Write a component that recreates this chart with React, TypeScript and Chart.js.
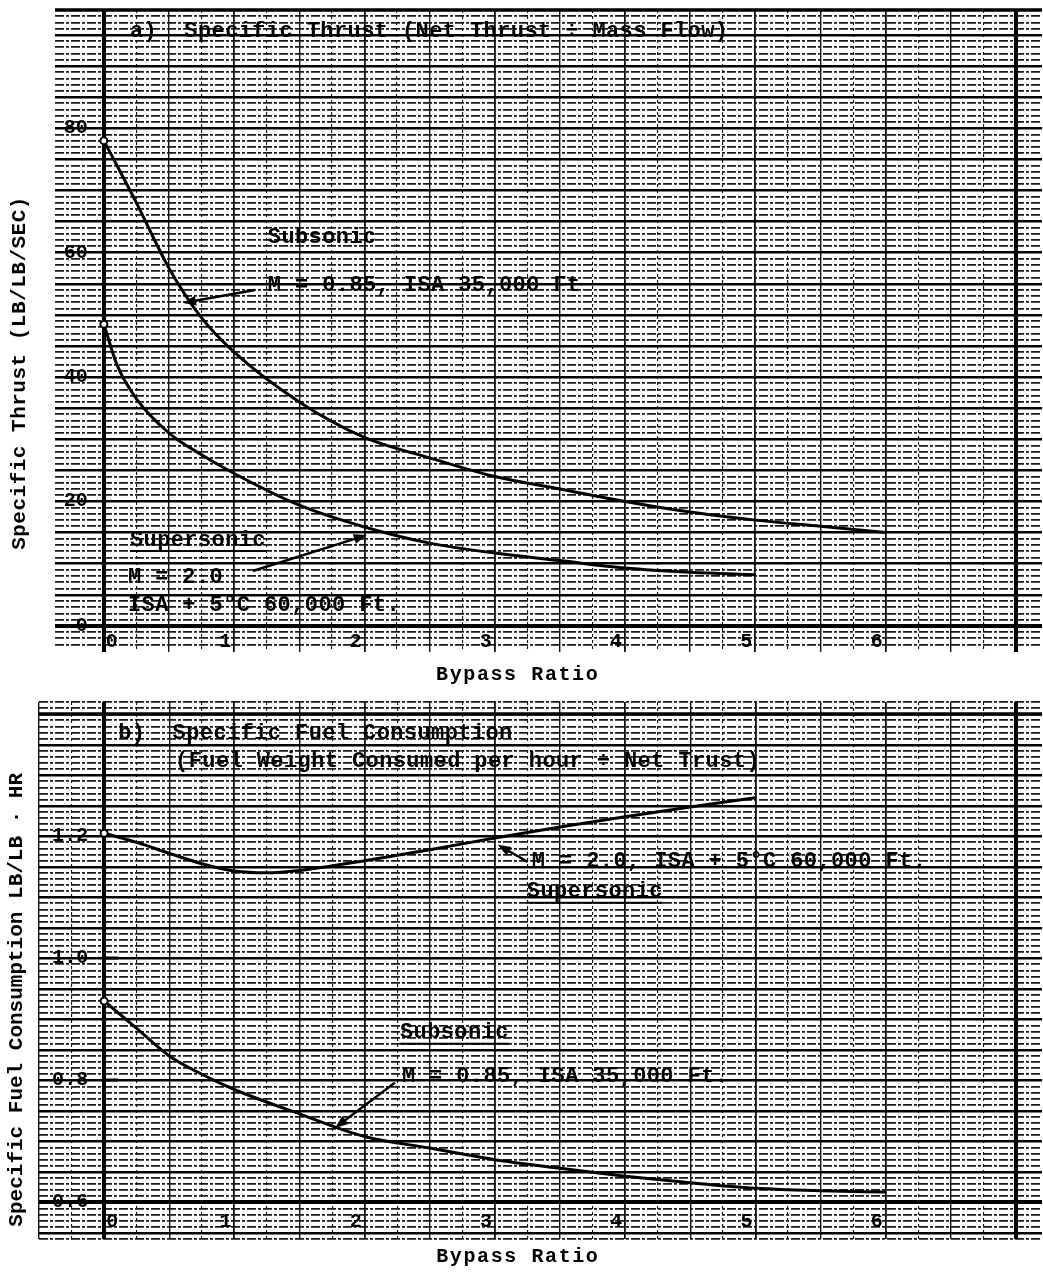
import { useEffect, useRef } from 'react';
import { Chart, registerables } from 'chart.js';

Chart.register(...registerables);

// ---------- data ----------
// a) Specific thrust (LB/LB/SEC) vs bypass ratio
const thrustSubsonicBPR = [0, 0.25, 0.5, 0.75, 1, 1.5, 2, 2.5, 3, 3.5, 4, 4.5, 5, 5.5, 6];
const thrustSubsonic = [78, 68, 57.5, 49.5, 44, 36, 30.3, 27, 24, 22, 20, 18.3, 17, 16, 15];
const thrustSupersonicBPR = [0, 0.1, 0.25, 0.5, 0.75, 1, 1.5, 2, 2.5, 3, 3.5, 4, 4.5, 5];
const thrustSupersonic = [48.5, 42, 36.5, 31, 27.5, 24.5, 19.4, 15.9, 13.3, 11.7, 10.5, 9.3, 8.6, 8.2];

// b) Specific fuel consumption (LB/LB·HR) vs bypass ratio
const sfcSupersonicBPR = [0, 0.25, 0.5, 0.75, 1, 1.25, 1.5, 2, 2.5, 3, 3.5, 4, 4.5, 5];
const sfcSupersonic = [1.205, 1.19, 1.172, 1.155, 1.143, 1.14, 1.144, 1.16, 1.178, 1.197, 1.215, 1.232, 1.248, 1.263];
const sfcSubsonicBPR = [0, 0.25, 0.5, 0.75, 1, 1.5, 2, 2.5, 3, 3.5, 4, 4.5, 5, 5.5, 6];
const sfcSubsonic = [0.93, 0.885, 0.84, 0.81, 0.785, 0.745, 0.708, 0.689, 0.67, 0.656, 0.643, 0.632, 0.623, 0.619, 0.617];

// tick labels
const bypassTicks = [0, 1, 2, 3, 4, 5, 6];
const thrustTicks = [0, 20, 40, 60, 80];
const thrustTickLabels = ['0', '20', '40', '60', '80'];
const sfcTicks = [0.6, 0.8, 1.0, 1.2];
const sfcTickLabels = ['0.6', '0.8', '1.0', '1.2'];

// ---------- helpers ----------
type Note = { text: string; x: number; y: number; underline?: boolean };
type Arrow = { fromX: number; fromY: number; toX: number; toY: number };
interface Deco {
  notes: Note[];
  arrows: Arrow[];
  yTickValues: number[];
  yTickLabels: string[];
  yTickMarks: number[];
  xTickLabelY: number;
  yTitle: string;
  yTitleY: number;
  yTitleGap: number;
  yTitleSpacing: string;
  xTitle: string;
  xTitleX: number;
  frameTop: number;
  frameRight: number;
  axisY: number;
}

const near = (a: number, b: number) => Math.abs(a - b) < 1e-6;
const isMult = (v: number, s: number) => near(v / s, Math.round(v / s));

const MONO = '"Liberation Mono", "DejaVu Sans Mono", monospace';

function decoPlugin(d: Deco) {
  return {
    id: 'paperDeco',
    beforeDatasetsDraw(chart: any) {
      const { ctx, chartArea: a, scales } = chart;
      const xs = scales.x;
      const ys = scales.y;
      ctx.save();
      ctx.strokeStyle = '#000';
      ctx.setLineDash([]);
      const vline = (v: number, w: number) => {
        const p = Math.round(xs.getPixelForValue(v));
        ctx.lineWidth = w;
        ctx.beginPath();
        ctx.moveTo(p, a.top);
        ctx.lineTo(p, a.bottom);
        ctx.stroke();
      };
      const hline = (v: number, w: number) => {
        const p = Math.round(ys.getPixelForValue(v));
        ctx.lineWidth = w;
        ctx.beginPath();
        ctx.moveTo(a.left, p);
        ctx.lineTo(a.right, p);
        ctx.stroke();
      };
      vline(0, 4);
      vline(d.frameRight, 4);
      hline(d.axisY, 4);
      hline(d.frameTop, 3.5);
      // short tick marks on the y axis
      ctx.lineWidth = 3;
      for (const m of d.yTickMarks) {
        const p = Math.round(ys.getPixelForValue(m));
        const x0 = xs.getPixelForValue(0);
        ctx.beginPath();
        ctx.moveTo(x0, p);
        ctx.lineTo(x0 + 14, p);
        ctx.stroke();
      }
      ctx.restore();
    },
    afterDraw(chart: any) {
      const { ctx, scales, height } = chart;
      const xs = scales.x;
      const ys = scales.y;
      ctx.save();
      ctx.fillStyle = '#000';
      ctx.strokeStyle = '#000';
      ctx.setLineDash([]);

      // annotations
      ctx.font = `bold 22px ${MONO}`;
      (ctx as any).letterSpacing = '0.4px';
      ctx.textAlign = 'left';
      ctx.textBaseline = 'middle';
      for (const n of d.notes) {
        const px = xs.getPixelForValue(n.x);
        const py = ys.getPixelForValue(n.y);
        ctx.fillText(n.text, px, py);
        if (n.underline) {
          const w = ctx.measureText(n.text).width;
          ctx.fillRect(px, py + 10, w, 2);
        }
      }

      // arrows
      ctx.lineWidth = 2.5;
      for (const ar of d.arrows) {
        const x1 = xs.getPixelForValue(ar.fromX);
        const y1 = ys.getPixelForValue(ar.fromY);
        const x2 = xs.getPixelForValue(ar.toX);
        const y2 = ys.getPixelForValue(ar.toY);
        const ang = Math.atan2(y2 - y1, x2 - x1);
        const L = 13;
        const W = 5;
        ctx.beginPath();
        ctx.moveTo(x1, y1);
        ctx.lineTo(x2 - Math.cos(ang) * (L - 2), y2 - Math.sin(ang) * (L - 2));
        ctx.stroke();
        ctx.beginPath();
        ctx.moveTo(x2, y2);
        ctx.lineTo(x2 - Math.cos(ang) * L - Math.sin(ang) * W, y2 - Math.sin(ang) * L + Math.cos(ang) * W);
        ctx.lineTo(x2 - Math.cos(ang) * L + Math.sin(ang) * W, y2 - Math.sin(ang) * L - Math.cos(ang) * W);
        ctx.closePath();
        ctx.fill();
      }

      // y tick labels
      ctx.font = `bold 20px ${MONO}`;
      (ctx as any).letterSpacing = '0px';
      ctx.textAlign = 'right';
      const x0 = xs.getPixelForValue(0);
      d.yTickValues.forEach((v, i) => {
        ctx.fillText(d.yTickLabels[i], x0 - 16, ys.getPixelForValue(v));
      });

      // x tick labels
      const ly = ys.getPixelForValue(d.xTickLabelY);
      for (const v of bypassTicks) {
        const px = xs.getPixelForValue(v);
        if (v === 0) {
          ctx.textAlign = 'left';
          ctx.fillText(String(v), px + 2, ly);
        } else {
          ctx.textAlign = 'right';
          ctx.fillText(String(v), px - 3, ly);
        }
      }

      // x title
      ctx.font = `bold 20px ${MONO}`;
      (ctx as any).letterSpacing = '1.6px';
      ctx.textAlign = 'center';
      ctx.fillText(d.xTitle, xs.getPixelForValue(d.xTitleX), height - 15);

      // y title
      ctx.font = `bold 21px ${MONO}`;
      (ctx as any).letterSpacing = d.yTitleSpacing;
      ctx.save();
      ctx.translate(chart.chartArea.left - d.yTitleGap, ys.getPixelForValue(d.yTitleY));
      ctx.rotate(-Math.PI / 2);
      ctx.textAlign = 'center';
      ctx.fillText(d.yTitle, 0, 0);
      ctx.restore();

      ctx.restore();
    },
  };
}

function series(xs: number[], ys: number[]) {
  return {
    data: xs.map((x, i) => ({ x, y: ys[i] })),
    borderColor: '#000',
    borderWidth: 3,
    pointRadius: (c: any) => (c.dataIndex === 0 ? 3.5 : 0),
    pointBackgroundColor: '#fff',
    pointBorderColor: '#000',
    pointBorderWidth: 2,
    cubicInterpolationMode: 'monotone' as const,
    fill: false,
  };
}

function makeConfig(opts: {
  datasets: any[];
  xMin: number;
  xMax: number;
  yMin: number;
  yMax: number;
  yMinor: number;
  yMajor: number;
  padding: { left: number; right: number; top: number; bottom: number };
  deco: Deco;
}): any {
  const xWidth = (v: number) => {
    if (!isMult(v, 0.25)) return 0;
    if (isMult(v, 1)) return 1.8;
    if (isMult(v, 0.5)) return 1.4;
    return 1.1;
  };
  const yWidth = (v: number) => {
    if (!isMult(v, opts.yMinor)) return 0;
    if (isMult(v, opts.yMajor)) return 2.4;
    return 1.8;
  };
  return {
    type: 'line',
    data: { datasets: opts.datasets },
    options: {
      responsive: false,
      animation: false,
      devicePixelRatio: 1,
      events: [],
      layout: { padding: opts.padding },
      plugins: { legend: { display: false }, tooltip: { enabled: false } },
      scales: {
        x: {
          type: 'linear',
          min: opts.xMin,
          max: opts.xMax,
          ticks: { display: false, stepSize: 0.25, maxTicksLimit: 1000 },
          grid: {
            drawTicks: false,
            color: '#111',
            lineWidth: (c: any) => (c.tick ? xWidth(c.tick.value) : 0),
          },
          border: {
            display: false,
            dash: (c: any) => (c.tick && !isMult(c.tick.value, 0.5) ? [3, 3] : []),
          },
        },
        y: {
          type: 'linear',
          min: opts.yMin,
          max: opts.yMax,
          ticks: { display: false, stepSize: opts.yMinor, maxTicksLimit: 1000 },
          grid: {
            drawTicks: false,
            color: (c: any) => (c.tick && isMult(c.tick.value, opts.yMajor) ? '#000' : '#1a1a1a'),
            lineWidth: (c: any) => (c.tick ? yWidth(c.tick.value) : 0),
          },
          border: {
            display: false,
            dash: (c: any) => (c.tick && !isMult(c.tick.value, opts.yMajor) ? [9, 2, 3, 2] : []),
          },
        },
      },
    },
    plugins: [decoPlugin(opts.deco)],
  };
}

const topDeco: Deco = {
  notes: [
    { text: 'a)  Specific Thrust (Net Thrust ÷ Mass Flow)', x: 0.2, y: 95.5 },
    { text: 'Subsonic', x: 1.258, y: 62.4 },
    { text: 'M = 0.85, ISA 35,000 Ft', x: 1.258, y: 54.8 },
    { text: 'Supersonic', x: 0.2, y: 13.8, underline: true },
    { text: 'M = 2.0', x: 0.185, y: 7.86 },
    { text: 'ISA + 5°C 60,000 Ft.', x: 0.185, y: 3.36 },
  ],
  arrows: [
    { fromX: 1.159, fromY: 54.0, toX: 0.607, toY: 51.9 },
    { fromX: 1.143, fromY: 8.83, toX: 2.018, toY: 14.6 },
  ],
  yTickValues: thrustTicks,
  yTickLabels: thrustTickLabels,
  yTickMarks: [],
  xTickLabelY: -2.59,
  yTitle: 'Specific Thrust (LB/LB/SEC)',
  yTitleY: 40.65,
  yTitleGap: 35,
  yTitleSpacing: '0.5px',
  xTitle: 'Bypass Ratio',
  xTitleX: 3.176,
  frameTop: 99,
  frameRight: 7,
  axisY: 0,
};

const bottomDeco: Deco = {
  notes: [
    { text: 'b)  Specific Fuel Consumption', x: 0.108, y: 1.369 },
    { text: '(Fuel Weight Consumed per hour ÷ Net Trust)', x: 0.545, y: 1.322 },
    { text: 'M = 2.0, ISA + 5°C 60,000 Ft.', x: 3.283, y: 1.158 },
    { text: 'Supersonic', x: 3.245, y: 1.109, underline: true },
    { text: 'Subsonic', x: 2.271, y: 0.878, underline: true },
    { text: 'M = 0.85, ISA 35,000 Ft.', x: 2.286, y: 0.806 },
  ],
  arrows: [
    { fromX: 3.252, fromY: 1.158, toX: 3.022, toY: 1.186 },
    { fromX: 2.232, fromY: 0.796, toX: 1.772, toY: 0.722 },
  ],
  yTickValues: sfcTicks,
  yTickLabels: sfcTickLabels,
  yTickMarks: [0.8, 1.0],
  xTickLabelY: 0.568,
  yTitle: 'Specific Fuel Consumption LB/LB · HR',
  yTitleY: 0.932,
  yTitleGap: 22,
  yTitleSpacing: '0px',
  xTitle: 'Bypass Ratio',
  xTitleX: 3.176,
  frameTop: 1.4,
  frameRight: 7,
  axisY: 0.6,
};

// Chart.js keeps a 5px gap on the right of the plot area; the canvases are drawn
// 5px wider and clipped so the graph paper reaches the page edge.
const CANVAS_W = 1048;

export default function App() {
  const topRef = useRef<HTMLCanvasElement>(null);
  const botRef = useRef<HTMLCanvasElement>(null);

  useEffect(() => {
    document.body.style.margin = '0';
    const charts: Chart[] = [];
    if (topRef.current) {
      charts.push(
        new Chart(
          topRef.current,
          makeConfig({
            datasets: [
              series(thrustSubsonicBPR, thrustSubsonic),
              series(thrustSupersonicBPR, thrustSupersonic),
            ],
            xMin: -0.375,
            xMax: 7.2,
            yMin: -4.2,
            yMax: 99,
            yMinor: 1,
            yMajor: 5,
            padding: { left: 55, right: 0, top: 10, bottom: 38 },
            deco: topDeco,
          })
        )
      );
    }
    if (botRef.current) {
      charts.push(
        new Chart(
          botRef.current,
          makeConfig({
            datasets: [
              series(sfcSupersonicBPR, sfcSupersonic),
              series(sfcSubsonicBPR, sfcSubsonic),
            ],
            xMin: -0.5,
            xMax: 7.2,
            yMin: 0.54,
            yMax: 1.42,
            yMinor: 0.01,
            yMajor: 0.05,
            padding: { left: 39, right: 0, top: 12, bottom: 33 },
            deco: bottomDeco,
          })
        )
      );
    }
    return () => charts.forEach((c) => c.destroy());
  }, []);

  return (
    <div style={{ width: 1043, height: 1272, background: '#fff', overflow: 'hidden' }}>
      <canvas ref={topRef} width={CANVAS_W} height={690} style={{ display: 'block' }} />
      <canvas ref={botRef} width={CANVAS_W} height={582} style={{ display: 'block' }} />
    </div>
  );
}
